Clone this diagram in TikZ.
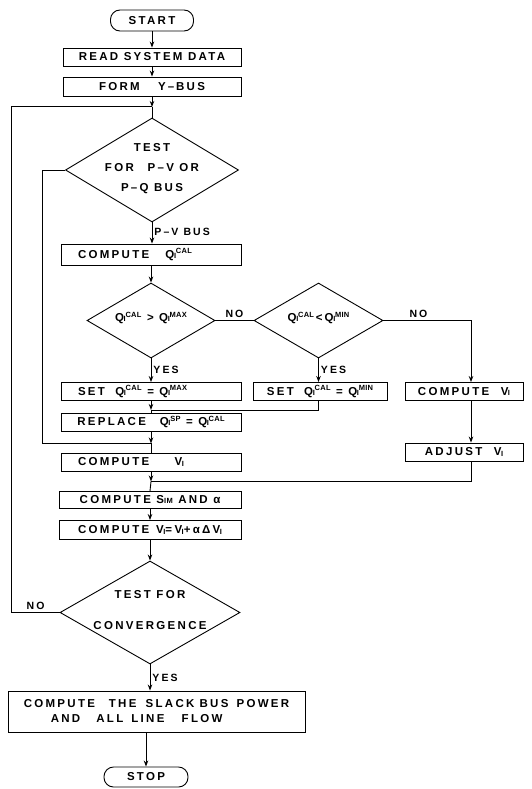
\documentclass[tikz,border=0pt]{standalone}
\usepackage{fontspec}
\setmainfont{Liberation Sans}[LetterSpace=20]
\usetikzlibrary{shapes.geometric,arrows.meta}
\newcommand{\sm}[1]{{\fontsize{7.5}{8}\selectfont\addfontfeature{LetterSpace=4}#1}}
\newcommand{\Qv}[1]{Q\kern-0.3pt\sm{I}\kern-0.3pt\raisebox{4.2pt}{\sm{#1}}}
\newcommand{\Vv}{V\kern-0.5pt\raisebox{-0.8pt}{\sm{I}}}
\newcommand{\lft}[2]{\makebox[#1][l]{\hspace*{17pt}#2}}
\newcommand{\dtext}[1]{\smash{\makebox[0pt]{\begin{tabular}{@{}c@{}}#1\end{tabular}}}}
\begin{document}
\begin{tikzpicture}[x=1pt,y=-1pt,
  font=\bfseries\fontsize{11.5}{20}\selectfont,
  box/.style={draw, line width=0.9pt, minimum height=18pt, inner sep=0pt},
  dia/.style={draw, diamond, line width=0.9pt, inner sep=0pt},
  term/.style={draw, rounded corners=9.5pt, line width=0.9pt, inner sep=0pt},
  flow/.style={line width=0.9pt},
  arr/.style={flow, -{Stealth[length=6pt,width=4.5pt]}},
  lbl/.style={inner sep=2pt, font=\bfseries\fontsize{10.5}{12}\selectfont}]
\useasboundingbox (0,0) rectangle (531,789);
\node[term, minimum width=83pt, minimum height=21pt] (start) at (152,20.5) {START};
\node[box, minimum width=178pt] (read) at (152,57) {READ SYSTEM DATA};
\node[box, minimum width=178pt, minimum height=19pt] (form) at (152,86.5) {FORM\hspace{1.6em}Y\,–\,BUS};
\node[dia, minimum width=173pt, minimum height=104pt] (d1) at (152,170) {\dtext{TEST\\[0pt]FOR\hspace{1.2em}P–V OR\\[0pt]P–Q BUS}};
\node[box, minimum width=180pt, minimum height=21pt] (cq) at (151,254.5) {\lft{180pt}{COMPUTE\hspace{1.4em}\Qv{CAL}}};
\node[dia, minimum width=128pt, minimum height=75pt] (d2) at (151,320.5) {\dtext{\Qv{CAL} > \Qv{MAX}}};
\node[dia, minimum width=129pt, minimum height=75pt] (d3) at (318.5,320.5) {\dtext{\Qv{CAL}\,<\,\Qv{MIN}}};
\node[box, minimum width=180pt] (smax) at (151,391.5) {\lft{180pt}{SET\hspace{0.9em}\Qv{CAL} = \Qv{MAX}}};
\node[box, minimum width=134pt] (smin) at (320,391.5) {SET\hspace{0.9em}\Qv{CAL} = \Qv{MIN}};
\node[box, minimum width=118pt] (cvr) at (464,391.5) {COMPUTE\hspace{1em}\Vv};
\node[box, minimum width=180pt] (rep) at (151,422) {REPLACE\hspace{1.2em}\Qv{SP} = \Qv{CAL}};
\node[box, minimum width=180pt] (cvl) at (151,462) {\lft{180pt}{COMPUTE\hspace{2.2em}\Vv}};
\node[box, minimum width=118pt] (adj) at (464,452) {ADJUST\hspace{1em}\Vv};
\node[box, minimum width=182pt, minimum height=17pt] (cs) at (150,500) {COMPUTE S\sm{IM} AND α};
\node[box, minimum width=182pt, minimum height=19pt] (cv) at (150,530) {COMPUTE\hspace{0.6em}\Vv=\Vv+αΔ\Vv};
\node[dia, minimum width=180pt, minimum height=103pt] (d4) at (150,612.5) {\dtext{TEST FOR\\[11pt]CONVERGENCE}};
\node[box, minimum width=297pt, minimum height=41pt, align=left, font=\bfseries\fontsize{11.5}{15}\selectfont] (fin) at (156.5,711.5) {COMPUTE\hspace{1.2em}THE\hspace{0.8em}SLACK\hspace{0.45em}BUS\hspace{0.7em}POWER\\\hspace*{27pt}AND\hspace{1.4em}ALL\hspace{0.7em}LINE\hspace{1.5em}FLOW};
\node[term, minimum width=84pt, minimum height=20pt] (stop) at (146,777) {STOP};
% connectors
\draw[arr] (start.south) -- (start.south |- read.north);
\draw[arr] (read.south) -- (read.south |- form.north);
\path (form.south) ++(0,10.5) coordinate (j1);
\draw[arr] (form.south) -- (j1);
\draw[flow] (j1) -- (d1.north);
\draw[arr] (d1.south) -- node[lbl, right, pos=0.45]{P–V BUS} (d1.south |- cq.north);
\draw[arr] (cq.south) -- (cq.south |- d2.north);
\draw[flow] (d2.east) -- node[lbl, above]{NO} (d3.west);
\coordinate (r1) at (471,320.5);
\draw[arr] (d3.east) -- node[lbl, above, pos=0.4]{NO} (r1) -- (r1 |- cvr.north);
\draw[arr] (d2.south) -- node[lbl, right]{YES} (d2.south |- smax.north);
\draw[arr] (d3.south) -- node[lbl, right]{YES} (d3.south |- smin.north);
\path (smax.south) ++(0,9) coordinate (j2);
\draw[arr] (smax.south) -- (j2);
\draw[flow] (j2) -- (rep.north);
\draw[flow] (d3.south |- smin.south) -- (d3.south |- j2) -- (j2);
\draw[arr] (r1 |- cvr.south) -- (r1 |- adj.north);
\path (rep.south) ++(0,12) coordinate (j3);
\draw[arr] (rep.south) -- (j3);
\draw[flow] (j3) -- (cvl.north);
\draw[flow] (d1.west) -- ++(-23,0) coordinate (l1) -- (l1 |- j3) -- (j3);
\path (cvl.south) ++(0,10) coordinate (j4);
\draw[arr] (cvl.south) -- (j4);
\draw[flow] (j4) -- (cs.north);
\draw[flow] (r1 |- adj.south) -- (r1 |- j4) -- (j4);
\draw[arr] (cs.south) -- (cs.south |- cv.north);
\draw[arr] (cv.south) -- (cv.south |- d4.north);
\draw[flow] (d4.west) -- node[lbl, above]{NO} ++(-48,0) coordinate (l2) -- (l2 |- j1) -- (j1);
\draw[arr] (d4.south) -- node[lbl, right]{YES} (d4.south |- fin.north);
\draw[arr] (stop.north |- fin.south) -- (stop.north);
\end{tikzpicture}
\end{document}
